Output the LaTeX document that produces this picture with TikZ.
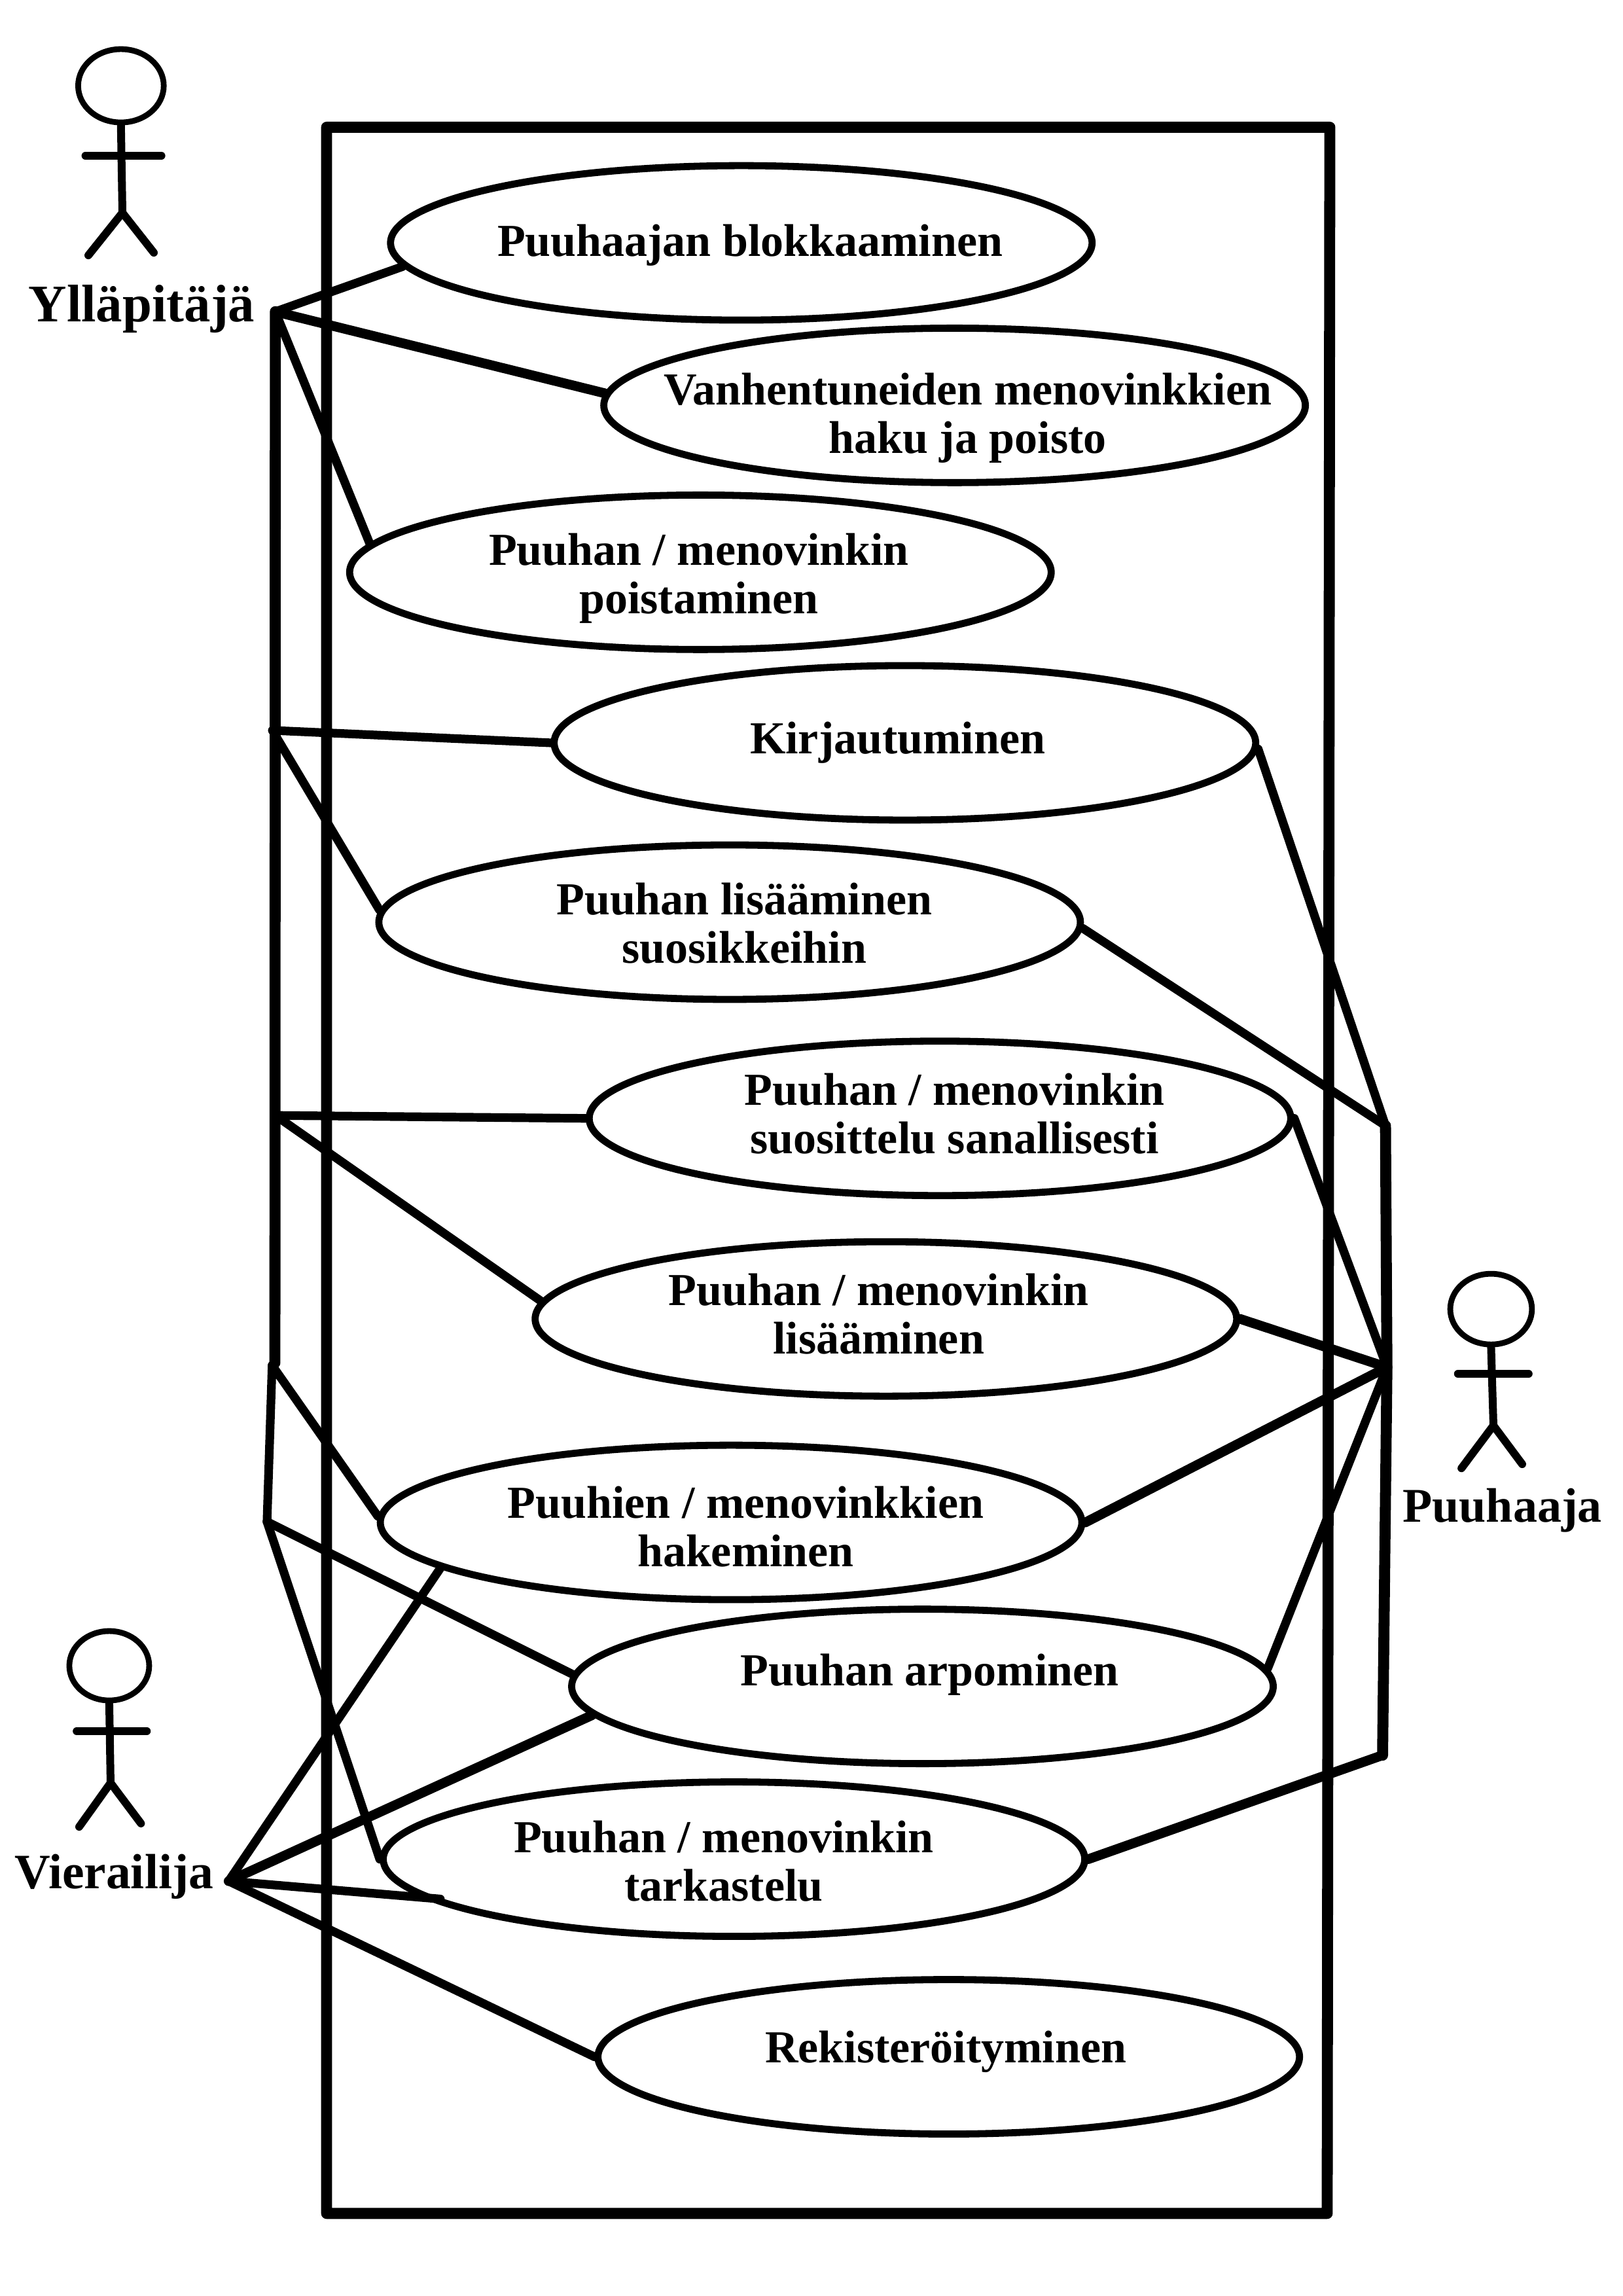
\documentclass[tikz,border=0pt]{standalone}
\usepackage{fontspec}
\setmainfont{Liberation Serif}
\usetikzlibrary{shapes.geometric}
\tikzset{
  uc/.style={ellipse,draw,line width=2.7pt,fill=white,minimum width=268pt,minimum height=59pt,inner sep=0pt},
  txt/.style={align=center,inner sep=0pt,font=\fontsize{17.5}{18.5}\selectfont\bfseries},
  actorname/.style={anchor=base,inner sep=0pt},
  conn/.style={line width=3.3pt,line cap=round,line join=round},
  thickconn/.style={line width=3.7pt,line cap=round,line join=round},
  trunk/.style={line width=4.2pt,line cap=round,line join=round},
  stick/.style={line width=3pt,line cap=round},
  headshape/.style={ellipse,draw,line width=2.2pt,inner sep=0pt}
}
\begin{document}
\begin{tikzpicture}[x=0.558pt,y=-0.5592pt]
\useasboundingbox (-1.5,-0.9) rectangle (1109.6,1567.4);
\coordinate (A) at (187,212);
\coordinate (B) at (185,498);
\coordinate (C) at (187,761);
\coordinate (D) at (184.8,931.7);
\coordinate (DT) at (186.7,930);
\coordinate (F) at (181.3,1038.5);
\coordinate (V) at (155,1284);
\coordinate (G) at (947,768);
\coordinate (P) at (948,933);
\coordinate (Q) at (945,1198);
\draw[trunk] (A)--(DT);
\draw[conn] (D)--(F);
\draw[line width=4.2pt,line join=round] (222.1,86)--(908.9,86)--(907.1,1511)--(222.1,1511)--cycle;
\node[uc] (e1) at (506,165) {};
\node[uc] (e2) at (652,276) {};
\node[uc] (e3) at (478,390) {};
\node[uc] (e4) at (618,506.5) {};
\node[uc] (e5) at (498,629) {};
\node[uc] (e6) at (642,763) {};
\node[uc] (e7) at (605,900) {};
\node[uc] (e8) at (499,1039) {};
\node[uc] (e9) at (630,1151) {};
\node[uc] (e10) at (501,1269) {};
\node[uc] (e11) at (648,1404) {};
\node[txt] (t1) at (512,166.5) {Puuhaajan blokkaaminen};
\node[txt] (t2) at (661,284.8) {Vanhentuneiden menovinkkien\\haku ja poisto};
\node[txt] (t3) at (477,394.1) {Puuhan / menovinkin\\poistaminen};
\node[txt] (t4) at (613,506.4) {Kirjautuminen};
\node[txt] (t5) at (508,629.7) {Puuhan lisääminen\\suosikkeihin};
\node[txt] (t6) at (652,760) {Puuhan / menovinkin\\suosittelu sanallisesti};
\node[txt] (t7) at (600,896.4) {Puuhan / menovinkin\\lisääminen};
\node[txt] (t8) at (509,1041.7) {Puuhien / menovinkkien\\hakeminen};
\node[txt] (t9) at (635,1143) {Puuhan arpominen};
\node[txt] (t10) at (494,1270.3) {Puuhan / menovinkin\\tarkastelu};
\node[txt] (t11) at (646,1400.7) {Rekisteröityminen};
\draw[conn] (A)--(e1.184);
\draw[thickconn] (A)--(e2.178);
\draw[conn] (A)--(e3.175);
\draw[conn] (B)--(e4.180);
\draw[conn] (B)--(e5.178);
\draw[conn] (C)--(e6.180);
\draw[conn] (C)--(e7.177);
\draw[conn] (D)--(e8.179);
\draw[conn] (F)--(e9.178);
\draw[conn] (F)--(e10.180);
\draw[conn] (V)--(e8.189);
\draw[thickconn] (V)--(e9.185.5);
\draw[conn,shorten >=-7pt] (V)--(e10.187.5);
\draw[conn] (V)--(e11.180);
\draw[conn] (e4.359)--(G);
\draw[conn] (e5.359)--(G);
\draw[trunk] (G)--(P);
\draw[conn] (e6.0)--(P);
\draw[thickconn] (e7.0)--(P);
\draw[thickconn] (e8.0)--(P);
\draw[conn] (e9.3.2)--(P);
\draw[trunk] (P)--(Q);
\draw[thickconn] (Q)--(e10.0);
% actors
\node[headshape,minimum width=32.7pt,minimum height=28pt] (h1) at (81.3,57.7) {};
\coordinate (h1hip) at (82.3,144.4);
\coordinate (h1a) at (57,105.5);
\coordinate (h1b) at (109,105.5);
\coordinate (h1l) at (59,173.5);
\coordinate (h1r) at (103.8,171.7);
\draw[stick] (h1.south)--(h1hip)--(h1l);
\draw[stick] (h1hip)--(h1r);
\draw[stick] (h1a)--(h1b);
\node[actorname,font=\fontsize{20.2}{22}\selectfont\bfseries] (n1) at (95.5,219) {Ylläpitäjä};
\node[headshape,minimum width=30.5pt,minimum height=26.5pt] (h2) at (73.3,1136.9) {};
\coordinate (h2hip) at (74.2,1216.9);
\coordinate (h2a) at (51,1181.6);
\coordinate (h2b) at (99,1181.6);
\coordinate (h2l) at (52.7,1246.9);
\coordinate (h2r) at (95,1244.6);
\draw[stick] (h2.south)--(h2hip)--(h2l);
\draw[stick] (h2hip)--(h2r);
\draw[stick] (h2a)--(h2b);
\node[actorname,font=\fontsize{18.9}{21}\selectfont\bfseries] (n2) at (76.5,1289) {Vierailija};
\node[headshape,minimum width=31.2pt,minimum height=27pt] (h3) at (1019.3,893.3) {};
\coordinate (h3hip) at (1020.9,972.8);
\coordinate (h3a) at (996.6,937.5);
\coordinate (h3b) at (1045,937.5);
\coordinate (h3l) at (999,1002);
\coordinate (h3r) at (1040.6,999.2);
\draw[stick] (h3.south)--(h3hip)--(h3l);
\draw[stick] (h3hip)--(h3r);
\draw[stick] (h3a)--(h3b);
\node[actorname,font=\fontsize{18.5}{20}\selectfont\bfseries] (n3) at (1027,1038.6) {Puuhaaja};
\end{tikzpicture}
\end{document}
